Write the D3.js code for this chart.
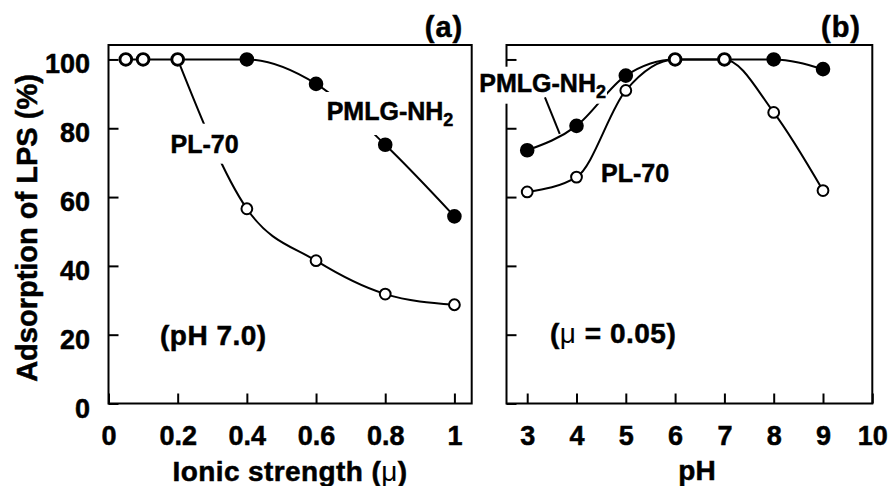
<!DOCTYPE html>
<html>
<head>
<meta charset="utf-8">
<script src="https://cdn.jsdelivr.net/npm/d3@7"></script>
<style>
  html, body { margin: 0; padding: 0; background: #fff; }
  svg { display: block; font-family: "Liberation Sans", Arial, Helvetica, sans-serif; font-weight: bold; }
  svg text { stroke: #000; stroke-width: 0.5px; }
</style>
</head>
<body>
<div id="chart"></div>
<script>
// ---------------------------------------------------------------------------
// DATA
// ---------------------------------------------------------------------------
// (a) adsorption vs ionic strength, pH 7.0
const ionicStrength = [0.05, 0.1, 0.2, 0.4, 0.6, 0.8, 1.0];
const ionicPL70     = [100, 100, 100, 56.6, 41.5, 31.8, 28.7];
const ionicPMLG     = [100, 100, 100, 100, 92.9, 75.2, 54.4];

// (b) adsorption vs pH, mu = 0.05
const phValues = [3, 4, 5, 6, 7, 8, 9];
const phPL70   = [61.5, 65.8, 91.0, 100, 100, 84.6, 61.9];
const phPMLG   = [73.6, 80.7, 95.3, 100, 100, 100, 97.2];

// tick labels
const ionicTicks = [0, 0.2, 0.4, 0.6, 0.8, 1];
const phTicks    = [3, 4, 5, 6, 7, 8, 9, 10];
const yTicks     = [0, 20, 40, 60, 80, 100];

// ---------------------------------------------------------------------------
const width = 894, height = 486;
const svg = d3.select('#chart').append('svg')
    .attr('width', width)
    .attr('height', height)
    .attr('viewBox', `0 0 ${width} ${height}`);

const plotTop = 45, plotBottom = 403.5;

const y = d3.scaleLinear().domain([0, 104.2]).range([plotBottom, plotTop]);
const xA = d3.scaleLinear().domain([0, 1.05]).range([108.5, 471.7]);
const xB = d3.scaleLinear().domain([2.58, 10]).range([506.5, 872.3]);

const line = (x) => d3.line()
    .x(d => x(d[0]))
    .y(d => y(d[1]))
    .curve(d3.curveMonotoneX);

const zip = (xs, ys) => xs.map((v, i) => [v, ys[i]]);

function frame(g, x) {
    const [x0, x1] = x.range();
    g.append('rect')
        .attr('x', x0).attr('y', plotTop)
        .attr('width', x1 - x0).attr('height', plotBottom - plotTop)
        .attr('fill', 'none').attr('stroke', '#000').attr('stroke-width', 2);
}

function axes(g, x, xTicks, showYLabels) {
    const ax = g.append('g')
        .attr('transform', `translate(0,${plotBottom})`)
        .call(d3.axisBottom(x).tickValues(xTicks).tickSizeInner(-10).tickSizeOuter(0)
            .tickPadding(22.5).tickFormat(d3.format('~g')));
    ax.select('.domain').remove();

    const ay = g.append('g')
        .attr('transform', `translate(${x.range()[0]},0)`)
        .call(d3.axisLeft(y).tickValues(yTicks).tickSizeInner(-10).tickSizeOuter(0)
            .tickPadding(18.5).tickFormat(showYLabels ? d3.format('d') : () => ''));
    ay.select('.domain').remove();
    ay.selectAll('text').attr('dy', '0.5em');

    g.selectAll('.tick line').attr('stroke', '#000').attr('stroke-width', 2);
    g.selectAll('.tick text')
        .attr('fill', '#000')
        .attr('font-family', '"Liberation Sans", Arial, sans-serif')
        .attr('font-weight', 'bold')
        .attr('font-size', 27);
}

function series(g, x, xs, ys, skipLine) {
    const pts = zip(xs, ys);
    const linePts = skipLine ? pts.slice(skipLine) : pts;
    g.append('path')
        .attr('d', line(x)(linePts))
        .attr('fill', 'none').attr('stroke', '#000').attr('stroke-width', 2);
    return pts;
}

function markers(g, x, pts, filled) {
    g.append('g').selectAll('circle')
        .data(pts)
        .join('circle')
        .attr('cx', d => x(d[0]))
        .attr('cy', d => y(d[1]))
        .attr('r', filled ? 6.3 : 5.4)
        .attr('fill', filled ? '#000' : '#fff')
        .attr('stroke', '#000')
        .attr('stroke-width', 2);
}

// text label with optional subscript and a white knock-out box behind it
function label(g, px, py, main, sub, opts = {}) {
    const grp = g.append('g');
    const bg = grp.append('rect').attr('fill', '#fff');
    const t = grp.append('text')
        .attr('x', px).attr('y', py)
        .attr('font-size', opts.size || 25)
        .attr('text-anchor', opts.anchor || 'start')
        .attr('letter-spacing', opts.ls || 0);
    t.append('tspan').text(main);
    if (sub) t.append('tspan').attr('font-size', (opts.size || 25) * 0.72).attr('dy', 6).text(sub);
    if (opts.knock) {
        const b = t.node().getBBox();
        const [padX, padY] = opts.knock;
        bg.attr('x', b.x - padX).attr('y', b.y - padY)
          .attr('width', b.width + 2 * padX).attr('height', b.height + 2 * padY);
    }
    return t;
}

// ---------------------------------------------------------------------------
// PANEL (a)
// ---------------------------------------------------------------------------
const gA = svg.append('g');
frame(gA, xA);
axes(gA, xA, ionicTicks, true);
const aPMLG = series(gA, xA, ionicStrength, ionicPMLG);
const aPL70 = series(gA, xA, ionicStrength, ionicPL70, 2);
label(gA, 204.5, 152.7, 'PL-70', null, { anchor: 'middle', knock: [2, 6] });
label(gA, 326.7, 120, 'PMLG-NH', '2', { knock: [3, 5] });
markers(gA, xA, aPMLG, true);
markers(gA, xA, aPL70, false);
label(gA, 160, 345, '(pH 7.0)', null, { size: 28, ls: 0.5 });
label(gA, 444, 37, '(a)', null, { size: 29, anchor: 'middle', ls: 1 });

// ---------------------------------------------------------------------------
// PANEL (b)
// ---------------------------------------------------------------------------
const gB = svg.append('g');
frame(gB, xB);
axes(gB, xB, phTicks, false);
const bPMLG = series(gB, xB, phValues, phPMLG);
const bPL70 = series(gB, xB, phValues, phPL70);
label(gB, 479.3, 91.7, 'PMLG-NH', '2', { knock: [1, 2] });
label(gB, 601, 181.7, 'PL-70', null, {});
// leader from label to the PMLG-NH2 curve
gB.append('line')
    .attr('x1', xB(3.36)).attr('y1', y(89))
    .attr('x2', xB(3.66)).attr('y2', y(78.4))
    .attr('stroke', '#000').attr('stroke-width', 2);
markers(gB, xB, bPMLG, true);
markers(gB, xB, bPL70, false);
const mu = label(gB, 550, 343, '(', null, { size: 28, ls: 0.5 });
mu.append('tspan').attr('font-weight', 'normal').attr('stroke-width', 0).text('\u03bc');
mu.append('tspan').text(' = 0.05)');
label(gB, 841, 37, '(b)', null, { size: 29, anchor: 'middle', ls: 1 });

// ---------------------------------------------------------------------------
// AXIS TITLES
// ---------------------------------------------------------------------------
const xt = svg.append('text')
    .attr('x', 290).attr('y', 480.5)
    .attr('text-anchor', 'middle')
    .attr('letter-spacing', 0.4)
    .attr('font-size', 28);
xt.append('tspan').text('Ionic strength (');
xt.append('tspan').attr('font-weight', 'normal').attr('stroke-width', 0).text('\u03bc');
xt.append('tspan').text(')');

svg.append('text')
    .attr('x', 697).attr('y', 479.5)
    .attr('text-anchor', 'middle')
    .attr('font-size', 28)
    .text('pH');

svg.append('text')
    .attr('transform', 'translate(37,228) rotate(-90)')
    .attr('text-anchor', 'middle')
    .attr('font-size', 29)
    .text('Adsorption of LPS (%)');
</script>
</body>
</html>
